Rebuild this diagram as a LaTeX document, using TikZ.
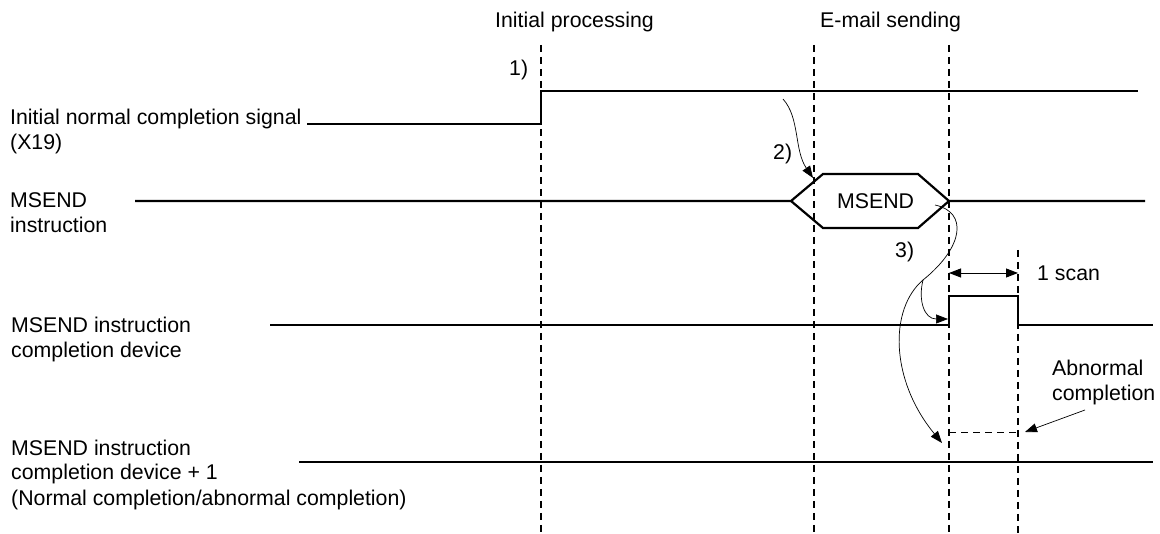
\documentclass[tikz,border=0pt]{standalone}
\usepackage{fontspec}
\setmainfont{Liberation Sans}
\usetikzlibrary{arrows.meta}
\begin{document}
\begin{tikzpicture}[x=1pt,y=-1pt,
  sig/.style={line width=2.2pt, line join=miter},
  gridline/.style={line width=1.1pt, dash pattern=on 7pt off 5pt},
  flow/.style={line width=0.7pt, -{Triangle[length=12pt,width=9pt]}},
  curveline/.style={line width=0.7pt},
  lbl/.style={font=\fontsize{21.3}{25}\selectfont, inner sep=0pt, align=left, anchor=base west}]
\useasboundingbox (0,0) rectangle (1160,534);

% vertical dashed lines
\draw[gridline] (541,45) -- (541,534);
\draw[gridline] (814,45) -- (814,534);
\draw[gridline] (949,45) -- (949,534);
\draw[gridline] (1018,250) -- (1018,534);

% headers
\node[lbl] (hInit) at (495,28) {Initial processing};
\node[lbl] (hMail) at (820,28) {E-mail sending};

% left labels (anchor = baseline of last line)
\node[lbl] (lX19) at (10,150) {Initial normal completion signal\\(X19)};
\node[lbl] (lMs) at (10,233) {MSEND\\instruction};
\node[lbl] (lDev) at (11,358) {MSEND instruction\\completion device};
\node[lbl] (lDev1) at (11,505) {MSEND instruction\\completion device + 1\\(Normal completion/abnormal completion)};

% X19 waveform
\draw[sig] (307,124) -- (541,124) -- (541,91) -- (1138,91);

% MSEND waveform with hexagon
\draw[sig] (135,201) -- (791,201) -- (823,174) -- (918,174) -- (949,201) -- (1145,201);
\draw[sig] (791,201) -- (823,228) -- (918,228) -- (949,201);
\node[lbl] (ms) at (837,209) {MSEND};

% completion device
\draw[sig] (270,325) -- (949,325) -- (949,296) -- (1018,296) -- (1018,325) -- (1153,325);

% completion device + 1
\draw[sig] (299,462) -- (1153,462);
\draw[gridline, line width=0.9pt] (949,432) -- (1018,432);

% step labels
\node[lbl] (n1) at (509,76) {1)};
\node[lbl] (n2) at (773,160) {2)};
\node[lbl] (n3) at (895,258) {3)};

% 1 scan
\coordinate (scanL) at (949,273);
\coordinate (scanR) at (1018,273);
\draw[line width=0.9pt, {Triangle[length=12pt,width=9pt]}-{Triangle[length=12pt,width=9pt]}] (scanL) -- (scanR);
\node[lbl] (scan) at (1037,281) {1 scan};

% abnormal completion
\node[lbl] (abn) at (1052,401) {Abnormal\\completion};
\coordinate (abnS) at (1085,410);
\coordinate (abnE) at (1025,432);
\draw[flow] (abnS) -- (abnE);

% curve 2)
\coordinate (c2s) at (783,99);
\coordinate (c2e) at (813,178);
\draw[flow] (c2s) .. controls (800,118) and (794,150) .. (c2e);

% curve 3)
\coordinate (c3s) at (935,205);
\coordinate (c3b) at (923,280);
\coordinate (c3a) at (948,319);
\coordinate (c3c) at (942,443);
\draw[curveline] (c3s) .. controls (968,212) and (964,247) .. (c3b);
\draw[flow] (c3b) .. controls (918,300) and (924,319) .. (c3a);
\draw[flow] (c3b) .. controls (889,309) and (890,380) .. (c3c);
\end{tikzpicture}
\end{document}
